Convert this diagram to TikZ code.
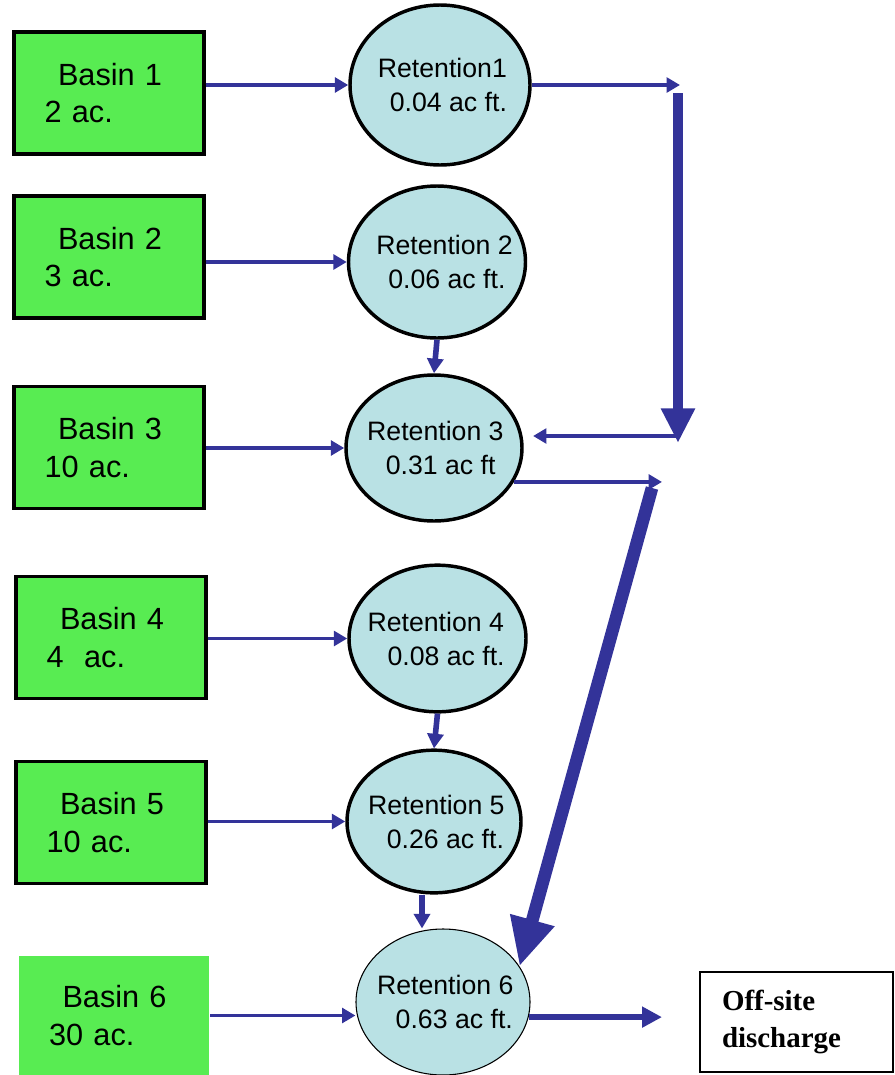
\documentclass[tikz,border=0pt]{standalone}
\usepackage{fontspec}
\setmainfont{Liberation Sans}
\newfontfamily\serifbold{Liberation Serif}
\usetikzlibrary{shapes.geometric,arrows.meta}
\definecolor{basingreen}{HTML}{58EC52}
\definecolor{pondblue}{HTML}{B9E1E4}
\definecolor{flowblue}{HTML}{333399}
\tikzset{
  basin/.style={draw=black, line width=2.6pt, fill=basingreen,
    minimum width=142.5pt, minimum height=91.5pt, inner xsep=23pt,
    text width=96.5pt, align=left, font=\fontsize{23}{28}\selectfont},
  pond/.style={ellipse, draw=black, line width=2.6pt, fill=pondblue, inner sep=0pt},
  pondlabel/.style={anchor=west, xshift=#1, inner sep=0pt, align=left,
    font=\fontsize{20}{25.5}\selectfont},
  pondlabel/.default=17pt,
  flow/.style={flowblue, line width=2.7pt, -{Triangle[length=10pt,width=11pt]}},
  link/.style={flowblue, line width=4.2pt, -{Triangle[length=11pt,width=12pt]}},
  trunk/.style={flowblue, line width=7pt, -{Triangle[length=26pt,width=24pt]}},
}

\begin{document}
\begin{tikzpicture}[x=0.75pt, y=-0.75pt]
  \useasboundingbox (0,0) rectangle (895,1075);
  % Basins
  \node[basin] (b1) at (109,93) {\hspace*{10pt}Basin 1\\2 ac.};
  \node[basin] (b2) at (109,257) {\hspace*{10pt}Basin 2\\3 ac.};
  \node[basin] (b3) at (109,447.5) {\hspace*{10pt}Basin 3\\10 ac.};
  \node[basin] (b4) at (111,637.5) {\hspace*{10pt}Basin 4\\4\ \ ac.};
  \node[basin] (b5) at (111,822.5) {\hspace*{10pt}Basin 5\\10 ac.};
  \node[basin, draw=none, minimum height=89pt] (b6) at (113.5,1015.5) {\hspace*{10pt}Basin 6\\30 ac.};
  % Retention ponds
  \node[pond, minimum width=135pt, minimum height=120pt] (r1) at (440,85) {};
  \node[pond, minimum width=132.75pt, minimum height=114pt] (r2) at (437,262) {};
  \node[pond, minimum width=132pt, minimum height=109.5pt] (r3) at (434,448) {};
  \node[pond, minimum width=132.75pt, minimum height=110pt] (r4) at (437.5,638.5) {};
  \node[pond, minimum width=130.5pt, minimum height=107pt] (r5) at (434,821.5) {};
  \node[pond, line width=0.8pt, minimum width=130.5pt, minimum height=109.5pt] (r6) at (443,1002) {};
  \node[pondlabel=22pt] at (r1.west) {Retention1\\\hspace*{9pt}0.04 ac ft.};
  \node[pondlabel=22pt] at (r2.west) {Retention 2\\\hspace*{9pt}0.06 ac ft.};
  \node[pondlabel] at (r3.west) {Retention 3\\\hspace*{14pt}0.31 ac ft};
  \node[pondlabel=15pt] at (r4.west) {Retention 4\\\hspace*{15pt}0.08 ac ft.};
  \node[pondlabel] at (r5.west) {Retention 5\\\hspace*{14pt}0.26 ac ft.};
  \node[pondlabel=16pt] at (r6.west) {Retention 6\\\hspace*{14pt}0.63 ac ft.};
  % Off-site box
  \node[draw=black, line width=1.5pt, minimum width=144.75pt, minimum height=75pt,
    inner xsep=16.5pt, text width=111.75pt, align=left,
    font=\serifbold\bfseries\fontsize{21.7}{27.75}\selectfont] (offsite) at (796.5,1022) {Off-site\\discharge};
  % Basins into ponds
  \draw[flow] (b1.east |- r1.west) -- (r1.west);
  \draw[flow] (b2.east |- r2.west) -- (r2.west);
  \draw[flow] (b3.east |- r3.west) -- (r3.west);
  \draw[flow] (b4.east |- r4.west) -- (r4.west);
  \draw[flow] (b5.east |- r5.west) -- (r5.west);
  \draw[flow] (b6.east) -- (b6.east -| r6.west);
  % Pond to pond
  \draw[link] (r2.south) -- (r3.north);
  \draw[link] (r4.south) -- (r5.north);
  \draw[link] ([xshift=-9pt]r5.south) -- ([xshift=-9pt]r5.south |- r6.north);
  % Trunk from Retention1
  \coordinate (t1) at (680,86);
  \coordinate (t2) at (678,93);
  \coordinate (t3) at (678,443);
  \coordinate (t4) at (678,436);
  \draw[flow] (r1.east) -- (r1.east -| t1);
  \draw[trunk] (t2) -- (t3);
  \draw[flow, shorten >=7pt] (t4) -- (t4 -| r3.east);
  % Trunk from Retention 3
  \coordinate (t5) at (662,481);
  \coordinate (t6) at (652,488);
  \draw[flow] (r3.-23) -- (r3.-23 -| t5);
  \draw[trunk, line width=9.5pt, -{Triangle[length=36pt,width=32pt]}] (t6) -- (r6.25);
  % Out of Retention 6
  \coordinate (t7) at (662,1016);
  \draw[flowblue, line width=5pt, -{Triangle[length=15pt,width=15pt]}] (r6.-10) -- (r6.-10 -| t7);
\end{tikzpicture}
\end{document}
